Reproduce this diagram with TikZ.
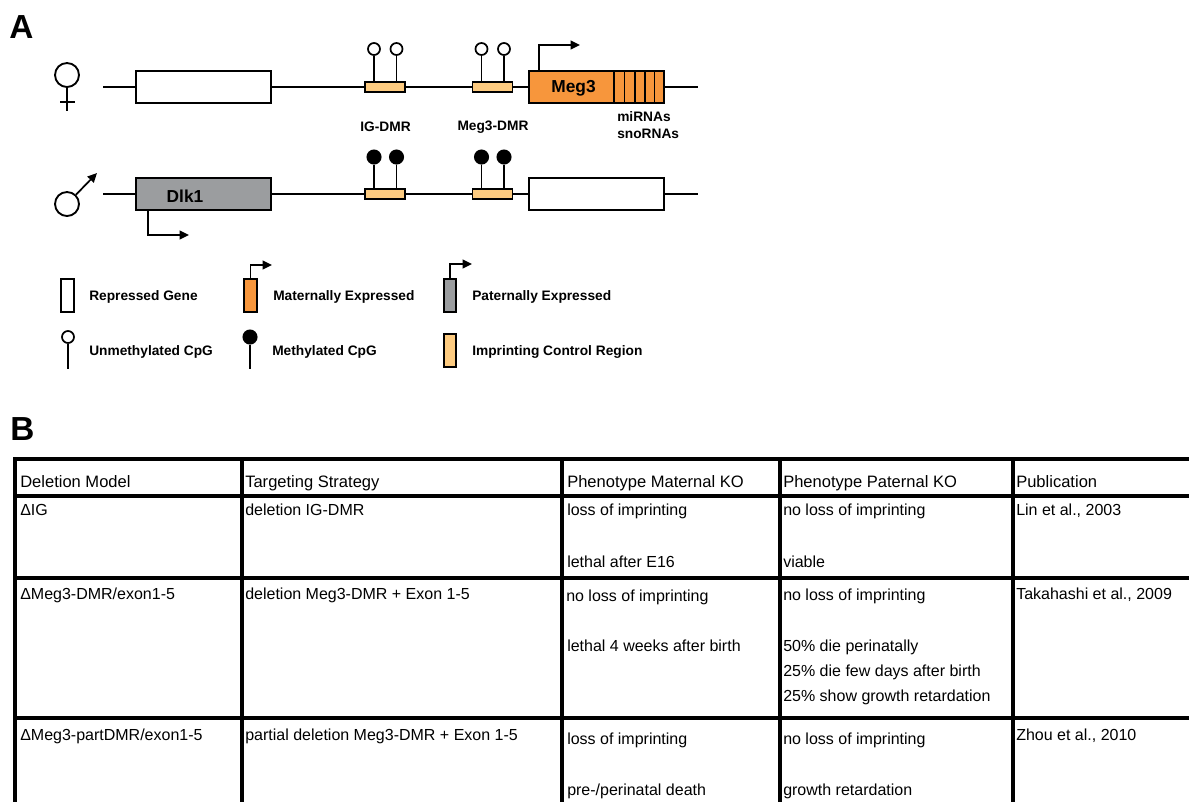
\documentclass[tikz,border=0pt]{standalone}
\usepackage{fontspec}
\setmainfont{Liberation Sans}
\usetikzlibrary{arrows.meta}
\definecolor{megorange}{HTML}{F7963C}
\definecolor{dlkgray}{HTML}{9B9D9F}
\definecolor{icrtan}{HTML}{FDCB80}
\tikzset{
  gene/.style={draw, line width=1.4pt, minimum width=101pt, minimum height=24pt, inner sep=0pt},
  genename/.style={font=\fontsize{13}{14}\selectfont\bfseries, inner sep=0pt},
  icr/.style={draw, line width=1.3pt, fill=icrtan, minimum width=30pt, minimum height=8pt, inner sep=0pt},
  legendbox/.style={draw, line width=1.4pt, minimum width=9.5pt, minimum height=25pt, inner sep=0pt},
  legendicr/.style={legendbox, fill=icrtan},
  sexsign/.style={circle, draw, line width=1.4pt, minimum size=18pt, inner sep=0pt},
  opencpg/.style={circle, draw, line width=1.3pt, fill=white, minimum size=9pt, inner sep=0pt},
  fullcpg/.style={circle, draw, line width=1.3pt, fill=black, minimum size=10pt, inner sep=0pt},
  label/.style={font=\fontsize{10.3}{11}\selectfont\bfseries, inner sep=0pt, yshift=-0.75pt},
  letter/.style={font=\fontsize{25}{25}\selectfont\bfseries, inner sep=0pt, anchor=base west},
  cell/.style={font=\fontsize{12}{13}\selectfont, inner sep=0pt, anchor=base west, yshift=-0.75pt},
  headcell/.style={cell, font=\fontsize{12.4}{13}\selectfont},
  wire/.style={line width=1.3pt},
  tss/.style={line width=1.3pt, -{Triangle[length=7pt,width=6.5pt]}},
  rule/.style={line width=2.4pt, line cap=rect}
}
\begin{document}
\begin{tikzpicture}[x=0.75pt, y=-0.75pt]
    \useasboundingbox (0,0) rectangle (1189,801);

    % Panel letters
    \node[letter] (panelA) at (9,38) {A};
    \node[letter] (panelB) at (10,440) {B};

    % Maternal allele
    \node[sexsign] (female) at (67,75) {};
    \coordinate (femaleend) at (67,111);
    \coordinate (crossl) at (60,102);
    \coordinate (crossr) at (74.5,102);
    \draw[wire] (female) -- (femaleend);
    \draw[wire] (crossl) -- (crossr);

    \coordinate (matstart) at (103,87);
    \coordinate (matend) at (698,87);
    \node[gene] (matdlk) at (203.5,87) {};
    \node[icr] (maticr) at (385,87) {};
    \node[icr] (matdmr) at (492.5,87) {};
    \node[gene, fill=megorange] (matmeg) at (596.5,87) {};
    \node[genename] (megname) at (573.5,88.5) {Meg3};
    \draw[wire] (matstart) -- (matdlk);
    \draw[wire] (matdlk) -- (maticr);
    \draw[wire] (maticr) -- (matdmr);
    \draw[wire] (matdmr) -- (matmeg);
    \draw[wire] (matmeg) -- (matend);

    % Exon stripes
    \coordinate (stripeA) at (614,71);
    \coordinate (stripeB) at (624.5,71);
    \coordinate (stripeC) at (635,71);
    \coordinate (stripeD) at (645,71);
    \coordinate (stripeE) at (654.5,71);
    \draw[wire] (stripeA) -- (stripeA |- matmeg.south);
    \draw[wire] (stripeB) -- (stripeB |- matmeg.south);
    \draw[wire] (stripeC) -- (stripeC |- matmeg.south);
    \draw[wire] (stripeD) -- (stripeD |- matmeg.south);
    \draw[wire] (stripeE) -- (stripeE |- matmeg.south);

    % Unmethylated sites
    \node[opencpg] (openA) at (374,49) {};
    \node[opencpg] (openB) at (396.5,49) {};
    \node[opencpg] (openC) at (481.5,49) {};
    \node[opencpg] (openD) at (504,49) {};
    \draw[wire] (openA) -- (openA |- maticr.north);
    \draw[wire] (openB) -- (openB |- maticr.north);
    \draw[wire] (openC) -- (openC |- matdmr.north);
    \draw[wire] (openD) -- (openD |- matdmr.north);

    % Meg3 promoter arrow
    \coordinate (megtss) at (539,71);
    \coordinate (megtip) at (580,45);
    \draw[tss] (megtss) |- (megtip);

    % Region names
    \node[label] (igname) at (385.5,126) {IG-DMR};
    \node[label] (dmrname) at (493,126) {Meg3-DMR};
    \node[label, anchor=west] (mirname) at (617,116) {miRNAs};
    \node[label, anchor=west] (snoname) at (617,133) {snoRNAs};

    % Paternal allele
    \node[sexsign] (male) at (67,204) {};
    \coordinate (maletip) at (97,173);
    \draw[tss] (male) -- (maletip);

    \coordinate (patstart) at (103,194);
    \coordinate (patend) at (698,194);
    \node[gene, fill=dlkgray] (patdlk) at (203.5,194) {};
    \node[genename] (dlkname) at (185,196) {Dlk1};
    \node[icr] (paticr) at (385,194) {};
    \node[icr] (patdmr) at (492.5,194) {};
    \node[gene] (patmeg) at (596.5,194) {};
    \draw[wire] (patstart) -- (patdlk);
    \draw[wire] (patdlk) -- (paticr);
    \draw[wire] (paticr) -- (patdmr);
    \draw[wire] (patdmr) -- (patmeg);
    \draw[wire] (patmeg) -- (patend);

    % Methylated sites
    \node[fullcpg] (fullA) at (374,157) {};
    \node[fullcpg] (fullB) at (396.5,157) {};
    \node[fullcpg] (fullC) at (481.5,157) {};
    \node[fullcpg] (fullD) at (504,157) {};
    \draw[wire] (fullA) -- (fullA |- paticr.north);
    \draw[wire] (fullB) -- (fullB |- paticr.north);
    \draw[wire] (fullC) -- (fullC |- patdmr.north);
    \draw[wire] (fullD) -- (fullD |- patdmr.north);

    % Dlk1 promoter arrow
    \coordinate (dlktss) at (148,210);
    \coordinate (dlktip) at (189,235);
    \draw[tss] (dlktss) |- (dlktip);

    % Legend, first row
    \node[legendbox] (keyrep) at (67.5,295.5) {};
    \node[legendbox, fill=megorange] (keymat) at (250.5,295.5) {};
    \node[legendbox, fill=dlkgray] (keypat) at (450,295.5) {};
    \coordinate (matkeytip) at (272,265);
    \coordinate (patkeytip) at (472,264);
    \draw[tss] (keymat.north) |- (matkeytip);
    \draw[tss] (keypat.north) |- (patkeytip);
    \node[label, anchor=west] (reptext) at (89,296) {Repressed Gene};
    \node[label, anchor=west] (mattext) at (273,296) {Maternally Expressed};
    \node[label, anchor=west] (pattext) at (472,296) {Paternally Expressed};

    % Legend, second row
    \node[opencpg] (keyopen) at (68,337) {};
    \node[fullcpg] (keyfull) at (250,337) {};
    \node[legendicr] (keyicr) at (450,350.5) {};
    \coordinate (openend) at (68,369);
    \coordinate (fullend) at (250,369);
    \draw[wire] (keyopen) -- (openend);
    \draw[wire] (keyfull) -- (fullend);
    \node[label, anchor=west] (opentext) at (89,351) {Unmethylated CpG};
    \node[label, anchor=west] (fulltext) at (272,351) {Methylated CpG};
    \node[label, anchor=west] (icrtext) at (472,351) {Imprinting Control Region};

    % Table rules
    \draw[rule] (15,459) -- (1189,459);
    \draw[rule] (15,496) -- (1189,496);
    \draw[rule] (15,578) -- (1189,578);
    \draw[rule] (15,718) -- (1189,718);
    \draw[rule] (15,459) -- (15,801);
    \draw[rule] (242,459) -- (242,801);
    \draw[rule] (562,459) -- (562,801);
    \draw[rule] (780,459) -- (780,801);
    \draw[rule] (1013,459) -- (1013,801);

    % Header row
    \node[headcell] (headA) at (20,486) {Deletion Model};
    \node[headcell] (headB) at (245,486) {Targeting Strategy};
    \node[headcell] (headC) at (567,486) {Phenotype Maternal KO};
    \node[headcell] (headD) at (783,486) {Phenotype Paternal KO};
    \node[headcell] (headE) at (1016,486) {Publication};

    % First model
    \node[cell] (oneA) at (20,514) {ΔIG};
    \node[cell] (oneB) at (245,514) {deletion IG-DMR};
    \node[cell] (oneC) at (567,514) {loss of imprinting};
    \node[cell] (oneCb) at (567,566) {lethal after E16};
    \node[cell] (oneD) at (783,514) {no loss of imprinting};
    \node[cell] (oneDb) at (783,566) {viable};
    \node[cell] (oneE) at (1016,514) {Lin et al., 2003};

    % Second model
    \node[cell] (twoA) at (20,598) {ΔMeg3-DMR/exon1-5};
    \node[cell] (twoB) at (245,598) {deletion Meg3-DMR + Exon 1-5};
    \node[cell] (twoC) at (566,600) {no loss of imprinting};
    \node[cell] (twoCb) at (567,650) {lethal 4 weeks after birth};
    \node[cell] (twoD) at (783,599) {no loss of imprinting};
    \node[cell] (twoDb) at (783,650) {50\% die perinatally};
    \node[cell] (twoDc) at (783,675) {25\% die few days after birth};
    \node[cell] (twoDd) at (783,700) {25\% show growth retardation};
    \node[cell] (twoE) at (1016,598) {Takahashi et al., 2009};

    % Third model
    \node[cell] (threeA) at (20,739) {ΔMeg3-partDMR/exon1-5};
    \node[cell] (threeB) at (245,739) {partial deletion Meg3-DMR + Exon 1-5};
    \node[cell] (threeC) at (567,743) {loss of imprinting};
    \node[cell] (threeCb) at (567,794) {pre-/perinatal death};
    \node[cell] (threeD) at (783,743) {no loss of imprinting};
    \node[cell] (threeDb) at (783,794) {growth retardation};
    \node[cell] (threeE) at (1016,739) {Zhou et al., 2010};
\end{tikzpicture}
\end{document}
